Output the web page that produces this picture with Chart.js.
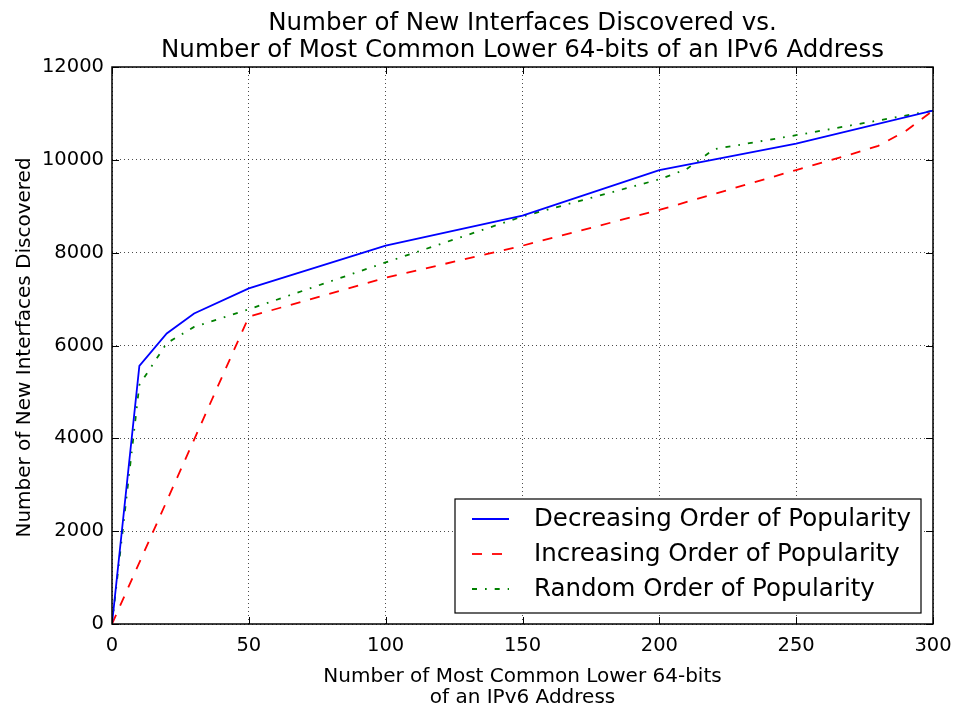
<!DOCTYPE html>
<html>
<head>
<meta charset="utf-8">
<script src="https://cdn.jsdelivr.net/npm/chart.js@4"></script>
<style>
  html, body { margin: 0; padding: 0; background: #fff; }
  #wrap { width: 955px; height: 709px; position: relative; }
</style>
</head>
<body>
<div id="wrap"><canvas id="chart"></canvas></div>
<script>
const titleLines = ["Number of New Interfaces Discovered vs.", "Number of Most Common Lower 64-bits of an IPv6 Address"]
const xLabelLines = ["Number of Most Common Lower 64-bits", "of an IPv6 Address"]
const yLabel = "Number of New Interfaces Discovered"

const xTicks = [0, 50, 100, 150, 200, 250, 300]
const yTicks = [0, 2000, 4000, 6000, 8000, 10000, 12000]

const decreasingX = [0, 10, 20, 30, 50, 100, 150, 200, 250, 300]
const decreasingY = [0, 5560, 6260, 6690, 7230, 8150, 8800, 9780, 10350, 11060]

const increasingX = [0, 50, 100, 150, 200, 250, 260, 270, 280, 290, 300]
const increasingY = [0, 6620, 7460, 8150, 8920, 9780, 9950, 10120, 10300, 10620, 11060]

const randomX = [0, 10, 20, 30, 50, 100, 150, 200, 210, 220, 250, 300]
const randomY = [0, 5150, 6050, 6400, 6780, 7790, 8780, 9580, 9800, 10230, 10530, 11060]

const FONT = "'DejaVu Sans', sans-serif"

const pts = (xs, ys) => xs.map((x, i) => ({ x: x, y: ys[i] }))

// title, axis labels, frame, inward ticks and legend drawn like matplotlib
const decor = {
  id: "decor",
  afterDraw(chart) {
    const ctx = chart.ctx
    const a = chart.chartArea
    const xs = chart.scales.x
    const ys = chart.scales.y
    const cx = (a.left + a.right) / 2

    ctx.save()
    ctx.fillStyle = "#000"
    ctx.textAlign = "center"
    ctx.textBaseline = "alphabetic"
    ctx.font = "24.5px " + FONT
    ctx.fillText(titleLines[0], cx, 30)
    ctx.fillText(titleLines[1], cx, 57)

    ctx.font = "20px " + FONT
    ctx.fillText(xLabelLines[0], cx, 682)
    ctx.fillText(xLabelLines[1], cx, 703)

    ctx.save()
    ctx.translate(30, (a.top + a.bottom) / 2 + 2)
    ctx.rotate(-Math.PI / 2)
    ctx.fillText(yLabel, 0, 0)
    ctx.restore()

    // inward tick marks
    ctx.strokeStyle = "#000"
    ctx.lineWidth = 1
    ctx.beginPath()
    xTicks.forEach(v => {
      const px = Math.round(xs.getPixelForValue(v)) + 0.5
      ctx.moveTo(px, a.bottom); ctx.lineTo(px, a.bottom - 7)
      ctx.moveTo(px, a.top); ctx.lineTo(px, a.top + 7)
    })
    yTicks.forEach(v => {
      const py = Math.round(ys.getPixelForValue(v)) + 0.5
      ctx.moveTo(a.left, py); ctx.lineTo(a.left + 7, py)
      ctx.moveTo(a.right, py); ctx.lineTo(a.right - 7, py)
    })
    ctx.stroke()

    // frame
    ctx.lineWidth = 1.5
    ctx.strokeRect(a.left, a.top, a.right - a.left, a.bottom - a.top)

    // legend box
    const lx = 455, ly = 499, lw = 466, lh = 114
    ctx.fillStyle = "#fff"
    ctx.fillRect(lx, ly, lw, lh)
    ctx.lineWidth = 1.2
    ctx.strokeRect(lx, ly, lw, lh)
    ctx.font = "24.5px " + FONT
    ctx.textAlign = "left"
    ctx.textBaseline = "middle"
    const rows = [519, 554, 589]
    chart.data.datasets.forEach((ds, i) => {
      const y = rows[i]
      ctx.strokeStyle = ds.borderColor
      ctx.lineWidth = ds.borderWidth
      ctx.setLineDash(ds.borderDash || [])
      ctx.beginPath()
      ctx.moveTo(472, y); ctx.lineTo(509, y)
      ctx.stroke()
      ctx.setLineDash([])
      ctx.fillStyle = "#000"
      ctx.fillText(ds.label, 534, y + 1)
    })
    ctx.restore()
  }
}

new Chart(document.getElementById("chart"), {
  type: "line",
  data: {
    datasets: [
      {
        label: "Decreasing Order of Popularity",
        data: pts(decreasingX, decreasingY),
        borderColor: "#0000ff",
        borderWidth: 1.8
      },
      {
        label: "Increasing Order of Popularity",
        data: pts(increasingX, increasingY),
        borderColor: "#ff0000",
        borderWidth: 1.8,
        borderDash: [10, 10]
      },
      {
        label: "Random Order of Popularity",
        data: pts(randomX, randomY),
        borderColor: "#008000",
        borderWidth: 1.8,
        borderDash: [5, 8, 1.7, 8]
      }
    ]
  },
  options: {
    responsive: true,
    maintainAspectRatio: false,
    animation: false,
    elements: {
      point: { radius: 0, hoverRadius: 0 },
      line: { tension: 0, fill: false }
    },
    layout: { padding: { top: 67, right: 22, left: 0, bottom: 0 } },
    plugins: {
      legend: { display: false },
      title: { display: false },
      tooltip: { enabled: false }
    },
    scales: {
      x: {
        type: "linear",
        min: 0,
        max: 300,
        afterFit: (s) => {
          s.height = 85
          s.paddingLeft = 0
          s.paddingRight = 0
        },
        afterBuildTicks: (s) => { s.ticks = xTicks.map(v => ({ value: v })) },
        ticks: {
          color: "#000",
          padding: 10,
          maxRotation: 0,
          callback: (v) => String(v),
          font: { family: FONT, size: 19.5 }
        },
        grid: { color: "rgba(0,0,0,0.7)", lineWidth: 1, drawTicks: false },
        border: { display: false, dash: [1, 3] }
      },
      y: {
        min: 0,
        max: 12000,
        afterFit: (s) => {
          s.width = 112
          s.paddingTop = 0
          s.paddingBottom = 0
        },
        afterBuildTicks: (s) => { s.ticks = yTicks.map(v => ({ value: v })) },
        ticks: {
          color: "#000",
          padding: 8,
          callback: (v) => String(v),
          font: { family: FONT, size: 19.5 }
        },
        grid: { color: "rgba(0,0,0,0.7)", lineWidth: 1, drawTicks: false },
        border: { display: false, dash: [1, 3] }
      }
    }
  },
  plugins: [decor]
})
</script>
</body>
</html>
